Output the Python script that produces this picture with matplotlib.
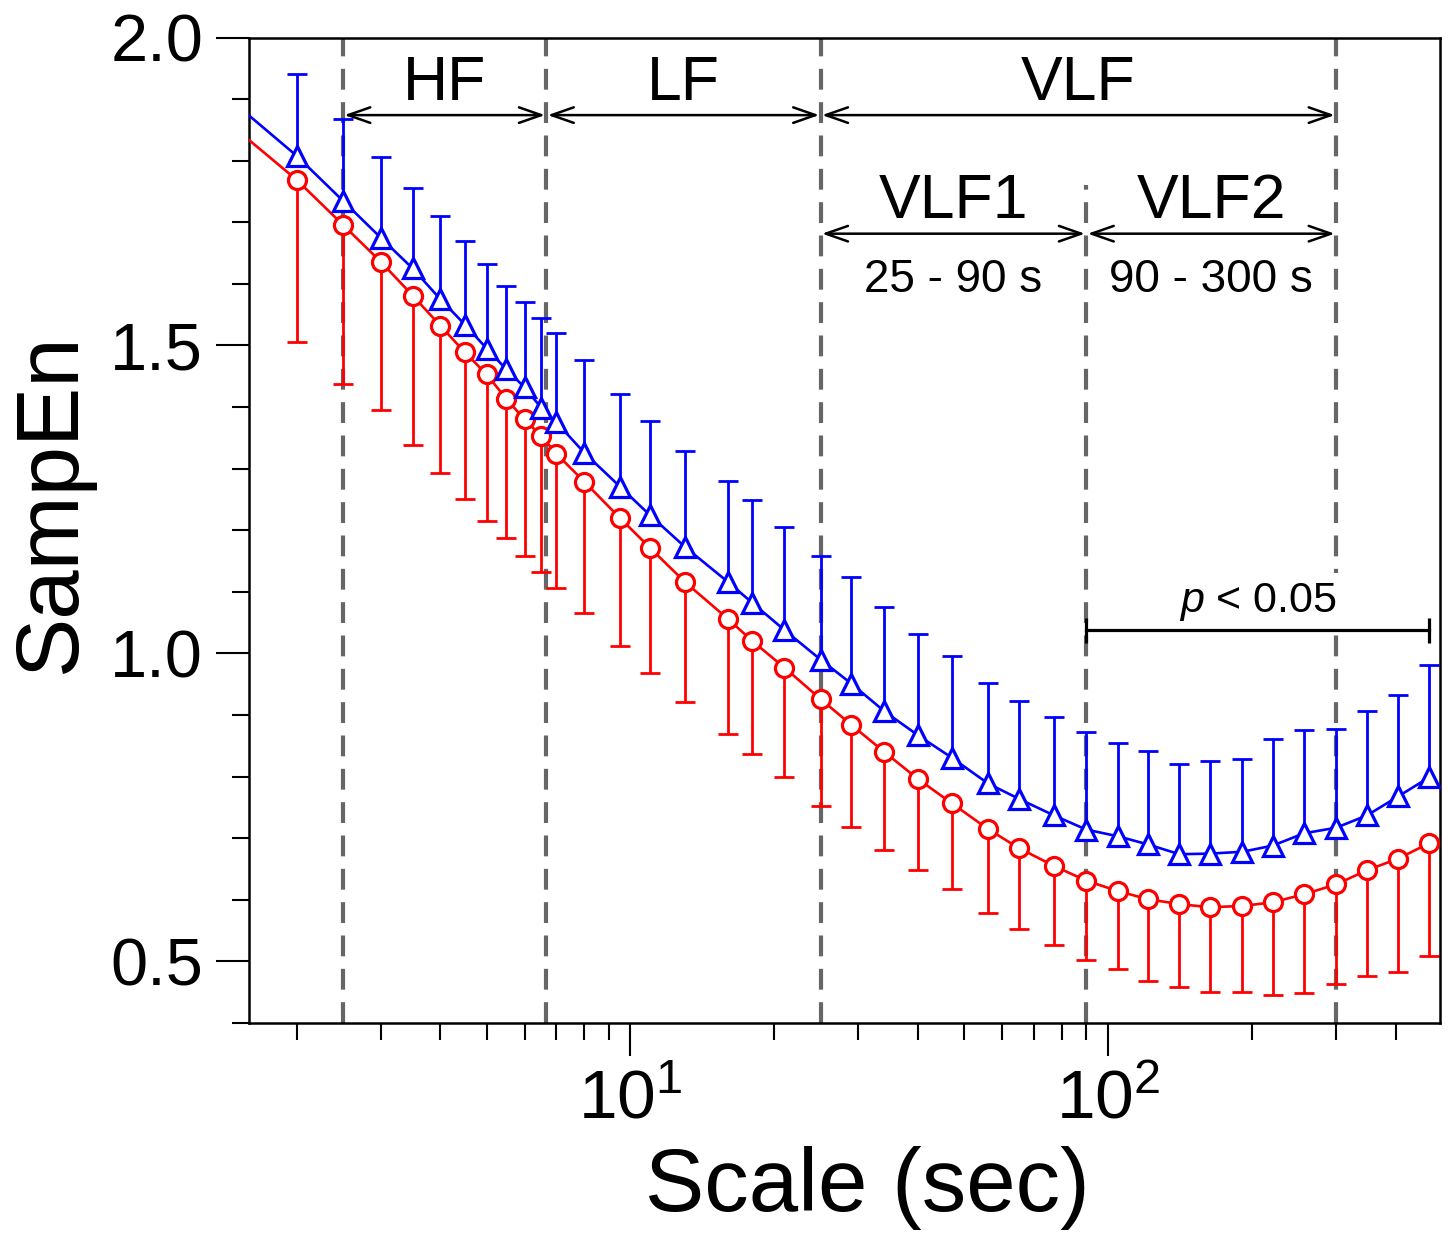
import numpy as np
import matplotlib
matplotlib.use("Agg")
import matplotlib.pyplot as plt
from matplotlib.ticker import LogLocator, NullFormatter, LogFormatterSciNotation, MultipleLocator

plt.rcParams['font.family'] = ['Liberation Sans', 'DejaVu Sans']
plt.rcParams['mathtext.fontset'] = 'custom'
plt.rcParams['mathtext.rm'] = 'Liberation Sans'
plt.rcParams['mathtext.it'] = 'Liberation Sans:italic'
plt.rcParams['mathtext.default'] = 'regular'

# scale (sec)
scale = [1.5, 2, 2.5, 3, 3.5, 4, 4.5, 5, 5.5, 6, 6.5, 7, 8, 9.5, 11, 13, 16, 18, 21,
         25, 29, 34, 40, 47, 56, 65, 77, 90, 105, 121, 141, 163, 191, 221, 257,
         300, 348, 405, 470]

# blue triangles (mean, upper SD)
blue_mean = [1.890, 1.808, 1.735, 1.675, 1.625, 1.575, 1.534, 1.495, 1.461, 1.432,
             1.399, 1.375, 1.326, 1.271, 1.224, 1.173, 1.116, 1.082, 1.038,
             0.990, 0.951, 0.906, 0.867, 0.831, 0.789, 0.764, 0.737, 0.714,
             0.703, 0.690, 0.674, 0.675, 0.678, 0.688, 0.708, 0.717, 0.737,
             0.768, 0.799]
blue_sd = [0.130, 0.133, 0.133, 0.131, 0.131, 0.136, 0.136, 0.138, 0.136, 0.139,
           0.145, 0.146, 0.150, 0.150, 0.153, 0.155, 0.164, 0.167, 0.167,
           0.168, 0.173, 0.169, 0.165, 0.165, 0.163, 0.159, 0.160, 0.158,
           0.151, 0.151, 0.146, 0.150, 0.150, 0.173, 0.167, 0.160, 0.169,
           0.164, 0.183]

# red circles (mean, lower SD)
red_mean = [1.850, 1.769, 1.696, 1.636, 1.581, 1.532, 1.489, 1.453, 1.413, 1.380,
            1.353, 1.324, 1.279, 1.220, 1.171, 1.116, 1.056, 1.020, 0.977,
            0.926, 0.884, 0.840, 0.796, 0.757, 0.715, 0.684, 0.655, 0.631,
            0.614, 0.601, 0.593, 0.588, 0.590, 0.596, 0.609, 0.625, 0.648,
            0.667, 0.692]
red_sd = [0.260, 0.263, 0.259, 0.241, 0.243, 0.239, 0.239, 0.238, 0.226, 0.222,
          0.221, 0.218, 0.213, 0.208, 0.202, 0.195, 0.186, 0.184, 0.178,
          0.173, 0.165, 0.159, 0.147, 0.140, 0.136, 0.131, 0.129, 0.128,
          0.127, 0.133, 0.135, 0.137, 0.139, 0.150, 0.160, 0.161, 0.171,
          0.184, 0.184]

# band borders (sec): HF | LF | VLF1 | VLF2
bounds = [2.5, 1 / 0.15, 25, 90, 300]
# significant range
sig_range = [90, 470]

x = np.array(scale)
bm, bs = np.array(blue_mean), np.array(blue_sd)
rm, rs = np.array(red_mean), np.array(red_sd)

fig = plt.figure(figsize=(14.5, 12.45), dpi=100)
ax = fig.add_axes([249 / 1450, 1 - 1023 / 1245, 1191 / 1450, 985.5 / 1245])
ax.set_xscale('log')
ax.set_xlim(1.59, 495)
ax.set_ylim(0.4, 2.0)

# dashed band lines
dash = dict(color='#666666', lw=3, dashes=(5, 3), zorder=1)
for b in bounds:
    if b == 90:
        ax.plot([b, b], [0.4, 1.761], **dash)
    else:
        ax.axvline(b, **dash)

# error bars (one sided)
ax.vlines(x, bm, bm + bs, color='#0000ff', lw=2, zorder=2)
ax.plot(x, bm + bs, ls='none', marker='_', ms=14, mew=2, color='#0000ff', zorder=2)
ax.vlines(x, rm - rs, rm, color='#ff0000', lw=2, zorder=2)
ax.plot(x, rm - rs, ls='none', marker='_', ms=14, mew=2, color='#ff0000', zorder=2)

ax.plot(x, rm, color='#ff0000', lw=1.9, marker='o', ms=13, mew=2.3,
        mfc='white', mec='#ff0000', zorder=3)
ax.plot(x, bm, color='#0000ff', lw=1.9, marker='^', ms=15, mew=2.3,
        mfc='white', mec='#0000ff', zorder=3)

# band arrows and labels
def span(x0, x1, y, label, ly, fs):
    ax.annotate('', xy=(x1, y), xytext=(x0, y),
                arrowprops=dict(arrowstyle='<->,head_length=0.8,head_width=0.28',
                                lw=1.8, color='black', shrinkA=1, shrinkB=1,
                                mutation_scale=20), zorder=4)
    ax.text(np.sqrt(x0 * x1), ly, label, ha='center', va='baseline', fontsize=fs)

span(bounds[0], bounds[1], 1.874, 'HF', 1.899, 45)
span(bounds[1], bounds[2], 1.874, 'LF', 1.899, 45)
span(bounds[2], bounds[4], 1.874, 'VLF', 1.899, 45)
span(bounds[2], bounds[3], 1.6815, 'VLF1', 1.7075, 45)
span(bounds[3], bounds[4], 1.6815, 'VLF2', 1.7075, 45)
ax.text(np.sqrt(25 * 90), 1.5875, '25 - 90 s', ha='center', va='baseline', fontsize=33)
ax.text(np.sqrt(90 * 300), 1.5875, '90 - 300 s', ha='center', va='baseline', fontsize=33)

# significance bar
ax.text(np.sqrt(sig_range[0] * sig_range[1]), 1.067, r'$\mathit{p}$ < 0.05',
        ha='center', va='baseline', fontsize=31, zorder=4,
        bbox=dict(facecolor='white', edgecolor='none', pad=6))
ax.plot(sig_range, [1.038, 1.038], color='black', lw=2.3, zorder=5)
ax.plot(sig_range, [1.038, 1.038], ls='none', marker='|', ms=18, mew=2.3,
        color='black', zorder=5)

# axes styling
for s in ax.spines.values():
    s.set_linewidth(1.8)
ax.xaxis.set_major_locator(LogLocator(base=10))
ax.xaxis.set_major_formatter(LogFormatterSciNotation())
ax.xaxis.set_minor_locator(LogLocator(base=10, subs=np.arange(2, 10)))
ax.xaxis.set_minor_formatter(NullFormatter())
ax.yaxis.set_major_locator(MultipleLocator(0.5))
ax.yaxis.set_minor_locator(MultipleLocator(0.1))
ax.yaxis.set_major_formatter(plt.FuncFormatter(lambda v, p: f'{v:.1f}'))
ax.tick_params(which='major', direction='out', length=24, width=1.5)
ax.tick_params(which='minor', direction='out', length=12, width=1.5)
ax.tick_params(axis='y', which='major', labelsize=48, pad=9)
ax.tick_params(axis='x', which='major', labelsize=50, pad=9)

ax.set_xlabel('Scale (sec)', fontsize=64)
ax.set_ylabel('SampEn', fontsize=64)
ax.xaxis.set_label_coords(0.519, -0.125)
ax.yaxis.set_label_coords(-0.13, 0.528)

fig.savefig('out.png', dpi=100)
